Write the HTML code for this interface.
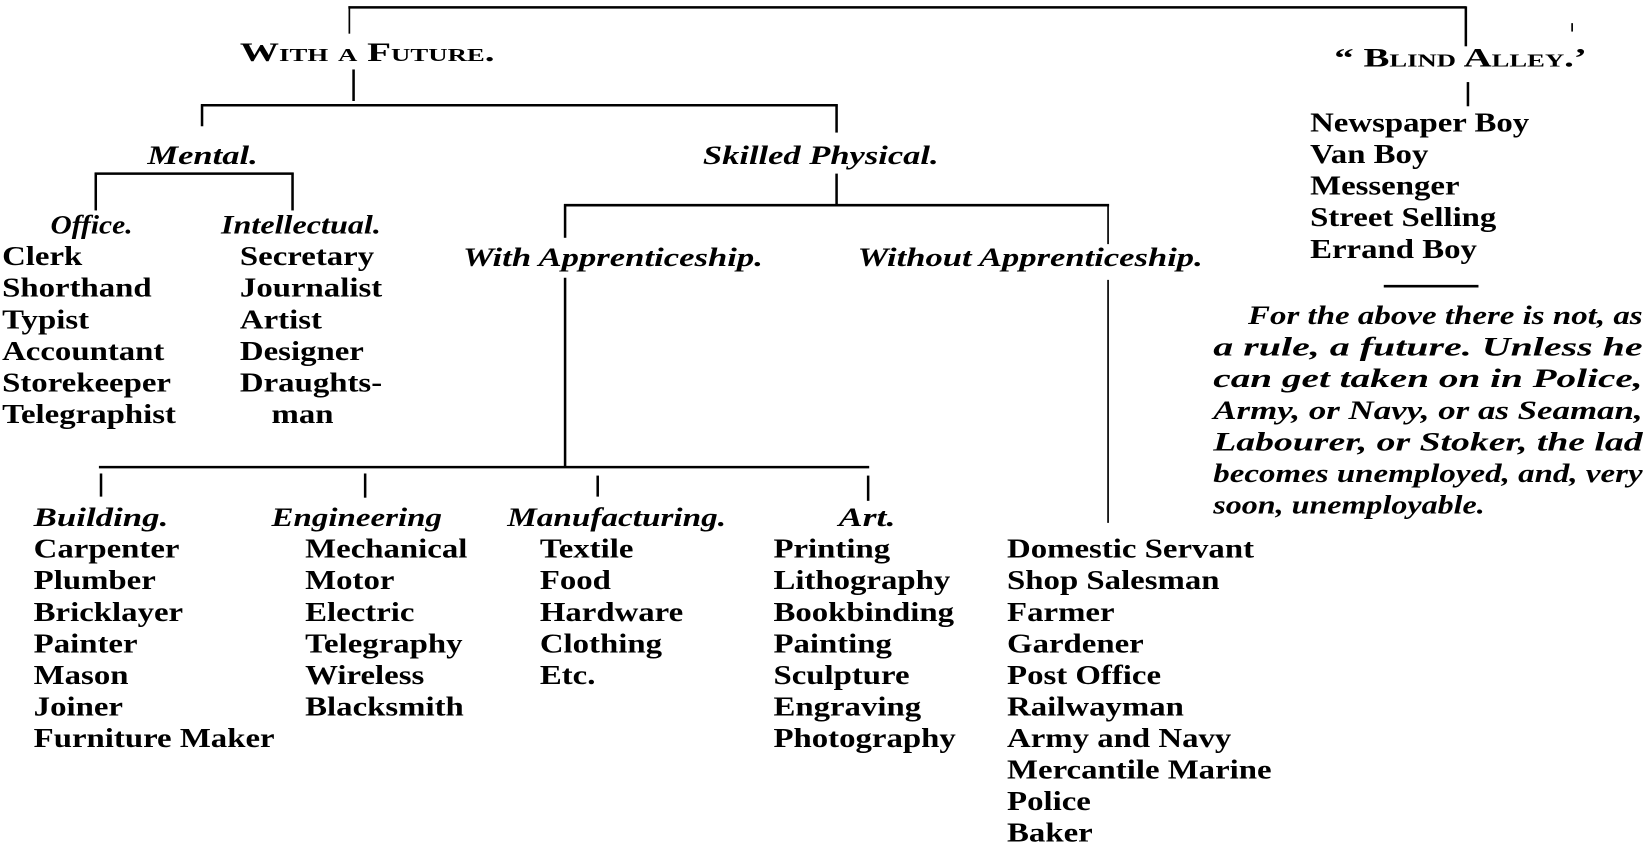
<!DOCTYPE html>
<html><head><meta charset="utf-8">
<style>
html,body{margin:0;padding:0;background:#fff;}
svg{display:block;}
text{font-family:"Liberation Serif",serif;fill:#000;}
.b{font-weight:bold;font-size:26px;}
.i{font-weight:bold;font-style:italic;font-size:25px;}
.sc{font-weight:bold;font-size:25px;font-variant:small-caps;}
.p{font-weight:bold;font-style:italic;font-size:25px;}
line{stroke:#000;stroke-width:2.4;}
.t{stroke-width:1.6;}
</style></head>
<body>
<svg width="1650" height="867" viewBox="0 0 1568 824" preserveAspectRatio="none" xmlns="http://www.w3.org/2000/svg">
<line x1="331" y1="7" x2="1393" y2="7"/>
<line x1="332" y1="6" x2="332" y2="32" class="t"/>
<line x1="336" y1="66" x2="336" y2="96"/>
<line x1="191" y1="100" x2="796" y2="100"/>
<line x1="192" y1="99" x2="192" y2="120"/>
<line x1="795" y1="99" x2="795" y2="126"/>
<line x1="795" y1="165" x2="795" y2="194"/>
<line x1="90" y1="165" x2="279" y2="165"/>
<line x1="91" y1="164" x2="91" y2="200"/>
<line x1="278" y1="164" x2="278" y2="200"/>
<line x1="536" y1="195" x2="1054" y2="195"/>
<line x1="537" y1="194" x2="537" y2="226"/>
<line x1="1053" y1="194" x2="1053" y2="232" class="t"/>
<line x1="1053" y1="266" x2="1053" y2="497" class="t"/>
<line x1="537" y1="264" x2="537" y2="444"/>
<line x1="94" y1="444" x2="826" y2="444"/>
<line x1="96" y1="450" x2="96" y2="472"/>
<line x1="347" y1="450" x2="347" y2="473"/>
<line x1="568" y1="452" x2="568" y2="472"/>
<line x1="825" y1="452" x2="825" y2="476"/>
<line x1="1393" y1="6" x2="1393" y2="44"/>
<line x1="1395" y1="78" x2="1395" y2="101"/>
<line x1="1494" y1="22" x2="1494" y2="30" class="t"/>
<line x1="1315" y1="272" x2="1405" y2="272"/>

<text class="sc" x="228" y="58" textLength="242" lengthAdjust="spacingAndGlyphs">With a Future.</text>
<text class="sc" x="1268" y="63" textLength="240" lengthAdjust="spacingAndGlyphs">“ Blind Alley.’</text>
<text class="i" x="140" y="156" textLength="105" lengthAdjust="spacingAndGlyphs">Mental.</text>
<text class="i" x="668" y="156" textLength="224" lengthAdjust="spacingAndGlyphs">Skilled Physical.</text>
<text class="i" x="48" y="222" textLength="78" lengthAdjust="spacingAndGlyphs">Office.</text>
<text class="i" x="210" y="222" textLength="152" lengthAdjust="spacingAndGlyphs">Intellectual.</text>
<text class="i" x="440" y="253" textLength="285" lengthAdjust="spacingAndGlyphs">With Apprenticeship.</text>
<text class="i" x="815" y="253" textLength="328" lengthAdjust="spacingAndGlyphs">Without Apprenticeship.</text>
<text class="i" x="32" y="500" textLength="128" lengthAdjust="spacingAndGlyphs">Building.</text>
<text class="i" x="258" y="500" textLength="162" lengthAdjust="spacingAndGlyphs">Engineering</text>
<text class="i" x="482" y="500" textLength="208" lengthAdjust="spacingAndGlyphs">Manufacturing.</text>
<text class="i" x="797" y="500" textLength="54" lengthAdjust="spacingAndGlyphs">Art.</text>

<g transform="translate(2,0) scale(1.2,1)">
<text class="b" x="0" y="252">Clerk</text>
<text class="b" x="0" y="282">Shorthand</text>
<text class="b" x="0" y="312">Typist</text>
<text class="b" x="0" y="342">Accountant</text>
<text class="b" x="0" y="372">Storekeeper</text>
<text class="b" x="0" y="402">Telegraphist</text>
</g>
<g transform="translate(228,0) scale(1.2,1)">
<text class="b" x="0" y="252">Secretary</text>
<text class="b" x="0" y="282">Journalist</text>
<text class="b" x="0" y="312">Artist</text>
<text class="b" x="0" y="342">Designer</text>
<text class="b" x="0" y="372">Draughts-</text>
<text class="b" x="25" y="402">man</text>
</g>
<g transform="translate(32,0) scale(1.2,1)">
<text class="b" x="0" y="530">Carpenter</text>
<text class="b" x="0" y="560">Plumber</text>
<text class="b" x="0" y="590">Bricklayer</text>
<text class="b" x="0" y="620">Painter</text>
<text class="b" x="0" y="650">Mason</text>
<text class="b" x="0" y="680">Joiner</text>
<text class="b" x="0" y="710">Furniture Maker</text>
</g>
<g transform="translate(290,0) scale(1.2,1)">
<text class="b" x="0" y="530">Mechanical</text>
<text class="b" x="0" y="560">Motor</text>
<text class="b" x="0" y="590">Electric</text>
<text class="b" x="0" y="620">Telegraphy</text>
<text class="b" x="0" y="650">Wireless</text>
<text class="b" x="0" y="680">Blacksmith</text>
</g>
<g transform="translate(513,0) scale(1.2,1)">
<text class="b" x="0" y="530">Textile</text>
<text class="b" x="0" y="560">Food</text>
<text class="b" x="0" y="590">Hardware</text>
<text class="b" x="0" y="620">Clothing</text>
<text class="b" x="0" y="650">Etc.</text>
</g>
<g transform="translate(735,0) scale(1.2,1)">
<text class="b" x="0" y="530">Printing</text>
<text class="b" x="0" y="560">Lithography</text>
<text class="b" x="0" y="590">Bookbinding</text>
<text class="b" x="0" y="620">Painting</text>
<text class="b" x="0" y="650">Sculpture</text>
<text class="b" x="0" y="680">Engraving</text>
<text class="b" x="0" y="710">Photography</text>
</g>
<g transform="translate(957,0) scale(1.2,1)">
<text class="b" x="0" y="530">Domestic Servant</text>
<text class="b" x="0" y="560">Shop Salesman</text>
<text class="b" x="0" y="590">Farmer</text>
<text class="b" x="0" y="620">Gardener</text>
<text class="b" x="0" y="650">Post Office</text>
<text class="b" x="0" y="680">Railwayman</text>
<text class="b" x="0" y="710">Army and Navy</text>
<text class="b" x="0" y="740">Mercantile Marine</text>
<text class="b" x="0" y="770">Police</text>
<text class="b" x="0" y="800">Baker</text>
</g>
<g transform="translate(1245,0) scale(1.2,1)">
<text class="b" x="0" y="125">Newspaper Boy</text>
<text class="b" x="0" y="155">Van Boy</text>
<text class="b" x="0" y="185">Messenger</text>
<text class="b" x="0" y="215">Street Selling</text>
<text class="b" x="0" y="245">Errand Boy</text>
</g>

<text class="p" x="1186" y="308" textLength="375" lengthAdjust="spacingAndGlyphs">For the above there is not, as</text>
<text class="p" x="1153" y="338" textLength="408" lengthAdjust="spacingAndGlyphs">a rule, a future.  Unless he</text>
<text class="p" x="1153" y="368" textLength="408" lengthAdjust="spacingAndGlyphs">can get taken on in Police,</text>
<text class="p" x="1153" y="398" textLength="408" lengthAdjust="spacingAndGlyphs">Army, or Navy, or as Seaman,</text>
<text class="p" x="1153" y="428" textLength="408" lengthAdjust="spacingAndGlyphs">Labourer, or Stoker, the lad</text>
<text class="p" x="1153" y="458" textLength="408" lengthAdjust="spacingAndGlyphs">becomes unemployed, and, very</text>
<text class="p" x="1153" y="488" textLength="258" lengthAdjust="spacingAndGlyphs">soon, unemployable.</text>
</svg>
</body></html>
